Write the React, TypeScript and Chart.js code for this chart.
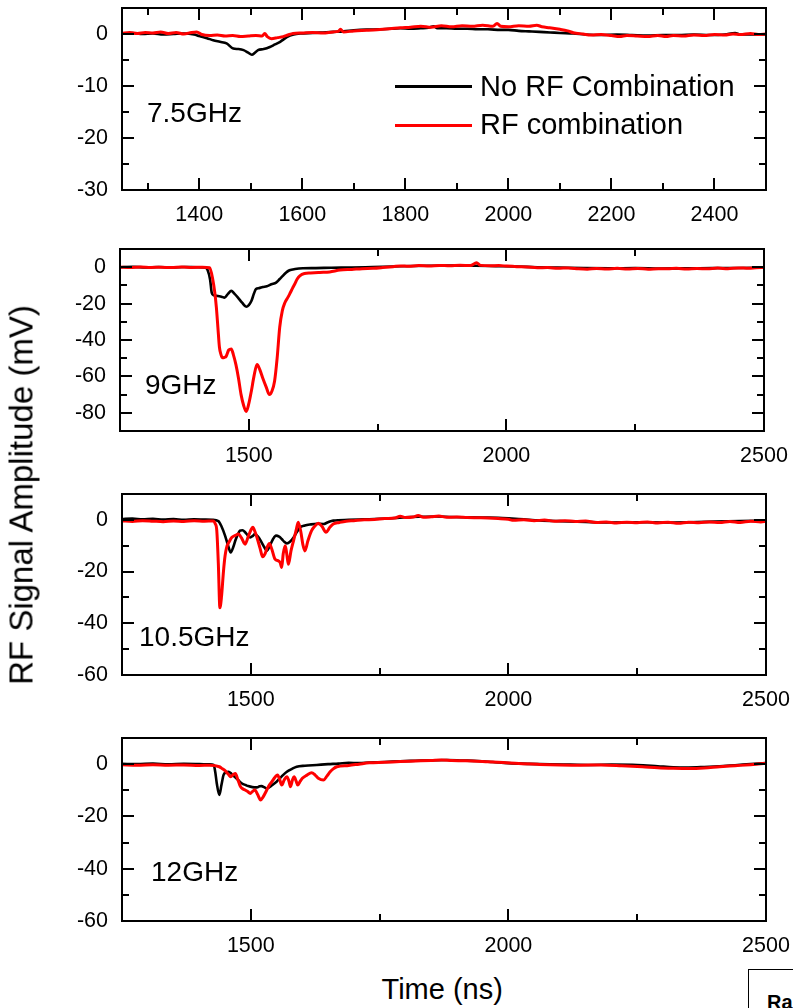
import React, { useEffect, useRef } from "react";
import { Chart, registerables } from "chart.js";

Chart.register(...registerables);

const FONT = "'Liberation Sans', Arial, Helvetica, sans-serif";

// ---------------- DATA ----------------
// Time (ns), amplitude (mV)
const black75: [number, number][] = [
  [1250, 0.1], [1270, 0.2], [1290, 0.0], [1310, 0.1], [1330, -0.1], [1350, 0.0], [1370, 0.1], [1390, -0.1],
  [1400, -0.4], [1415, -0.8], [1427, -1.2], [1440, -1.5], [1453, -1.8], [1466, -2.8], [1476, -2.9], [1486, -3.1],
  [1495, -3.6], [1502, -4.0], [1508, -3.6], [1514, -3.1], [1525, -2.9], [1537, -2.5], [1547, -2.0], [1557, -1.5],
  [1570, -0.6], [1583, -0.1], [1596, 0.1], [1620, 0.2], [1640, 0.3], [1660, 0.4], [1680, 0.5], [1700, 0.7],
  [1725, 0.85], [1750, 0.9], [1770, 1.0], [1790, 1.1], [1810, 1.0], [1830, 1.1], [1845, 1.2], [1855, 1.5],
  [1862, 1.1], [1880, 1.1], [1900, 1.0], [1920, 1.0], [1940, 0.9], [1960, 0.9], [1984, 0.8], [2000, 0.8],
  [2020, 0.6], [2040, 0.5], [2060, 0.4], [2081, 0.3], [2100, 0.2], [2126, 0.1], [2150, -0.1], [2180, -0.2],
  [2210, -0.1], [2240, -0.2], [2270, -0.3], [2300, -0.2], [2330, -0.2], [2360, -0.1], [2390, -0.2], [2420, -0.1],
  [2440, 0.2], [2450, -0.1], [2470, -0.1], [2500, -0.1],
];
const red75: [number, number][] = [
  [1250, 0.1], [1265, 0.3], [1280, 0.1], [1295, 0.3], [1310, 0.2], [1325, 0.4], [1340, 0.1], [1355, 0.3],
  [1370, 0.0], [1385, 0.3], [1395, 0.4], [1405, -0.1], [1420, -0.3], [1435, -0.2], [1450, -0.4], [1465, -0.3],
  [1480, -0.5], [1495, -0.4], [1510, -0.3], [1522, -0.4], [1527, 0.1], [1532, -0.5], [1540, -0.9], [1552, -0.7],
  [1563, -0.5], [1572, -0.2], [1582, 0.1], [1600, 0.2], [1620, 0.3], [1640, 0.2], [1660, 0.4], [1670, 0.5],
  [1674, 0.9], [1680, 0.4], [1700, 0.6], [1725, 0.7], [1745, 0.8], [1770, 1.0], [1790, 1.2], [1810, 1.3],
  [1830, 1.5], [1850, 1.3], [1870, 1.6], [1890, 1.4], [1910, 1.6], [1930, 1.5], [1950, 1.7], [1970, 1.5],
  [1978, 2.0], [1985, 1.5], [2000, 1.4], [2020, 1.6], [2040, 1.5], [2055, 1.7], [2065, 1.4], [2080, 1.2],
  [2100, 0.9], [2115, 0.6], [2126, 0.25], [2145, 0.0], [2160, -0.2], [2180, -0.1], [2200, -0.3], [2216, -0.5],
  [2230, -0.3], [2250, -0.4], [2270, -0.5], [2290, -0.3], [2306, -0.5], [2320, -0.3], [2340, -0.4], [2360, -0.2],
  [2380, -0.3], [2400, -0.1], [2420, -0.2], [2436, 0.0], [2450, -0.1], [2470, 0.1], [2485, -0.1], [2500, 0.0],
];

const black90: [number, number][] = [
  [1250, 0], [1275, 0.2], [1300, -0.1], [1325, 0.1], [1350, -0.1], [1375, 0.1], [1400, 0.0], [1415, -0.2],
  [1420, -1.5], [1425, -7], [1428, -14], [1432, -15.5], [1440, -15.8], [1447, -16.2], [1453, -16.7], [1460, -14.5],
  [1466, -13], [1472, -14.5], [1479, -16.7], [1487, -19.5], [1495, -21.7], [1500, -20.8], [1505, -18.6], [1510, -14.5],
  [1514, -12], [1520, -11.5], [1527, -10.9], [1535, -10.5], [1544, -9.4], [1553, -8.5], [1560, -6.5], [1566, -4.8],
  [1572, -3.0], [1579, -1.7], [1590, -1.0], [1605, -0.6], [1630, -0.5], [1660, -0.3], [1700, -0.2], [1740, 0.1],
  [1780, 0.4], [1820, 0.7], [1860, 0.8], [1900, 0.9], [1940, 0.8], [1980, 0.6], [2020, 0.4], [2060, 0.0],
  [2100, -0.2], [2150, -0.5], [2200, -0.6], [2250, -0.5], [2300, -0.7], [2350, -0.6], [2400, -0.5], [2450, -0.4],
  [2500, -0.2],
];
const red90: [number, number][] = [
  [1250, 0], [1270, -0.2], [1290, 0.1], [1310, -0.1], [1330, 0.0], [1350, -0.2], [1370, 0.1], [1390, -0.1],
  [1410, 0.0], [1424, -0.3], [1430, -6.6], [1434, -14], [1437, -22], [1440, -33], [1443, -44], [1446, -48],
  [1449, -49.8], [1453, -49.5], [1456, -49], [1461, -45.5], [1466, -44.9], [1470, -48], [1475, -53.5], [1480, -61],
  [1485, -70], [1490, -76], [1495, -79.3], [1500, -75], [1505, -68], [1510, -60], [1516, -53.5], [1521, -56],
  [1527, -60.9], [1534, -66], [1540, -70], [1545, -68], [1550, -62.7], [1555, -50], [1560, -33], [1565, -24],
  [1570, -19.5], [1575, -17], [1579, -14.9], [1585, -11.5], [1589, -9.4], [1594, -6.5], [1599, -4.8], [1608, -3.5],
  [1620, -3.2], [1638, -2.9], [1657, -2.6], [1677, -1.6], [1700, -1.2], [1720, -0.8], [1741, -0.6], [1760, -0.2],
  [1780, 0.3], [1794, 0.7], [1810, 0.5], [1830, 0.9], [1850, 0.7], [1870, 1.0], [1890, 0.8], [1910, 1.1],
  [1930, 0.9], [1942, 2.4], [1950, 1.0], [1970, 0.8], [1985, 0.9], [2001, 0.6], [2020, 0.3], [2040, 0.1],
  [2060, -0.3], [2080, -0.2], [2100, -0.6], [2120, -0.4], [2140, -0.9], [2157, -1.1], [2175, -0.7], [2195, -1.0],
  [2215, -0.6], [2235, -1.0], [2255, -0.7], [2275, -1.1], [2295, -0.8], [2313, -0.9], [2330, -0.6], [2350, -1.0],
  [2370, -0.7], [2390, -0.9], [2410, -0.5], [2430, -0.8], [2450, -0.4], [2470, -0.6], [2485, -0.3], [2500, -0.2],
];

const black105: [number, number][] = [
  [1250, 0.3], [1270, 0.5], [1290, 0.2], [1310, 0.4], [1330, 0.1], [1350, 0.3], [1370, 0.0], [1390, 0.2],
  [1410, 0.1], [1425, 0.0], [1437, -0.5], [1443, -2.5], [1450, -6.1], [1456, -10], [1461, -12.6], [1466, -10.5],
  [1470, -8], [1475, -5.5], [1479, -4.2], [1484, -4.0], [1489, -4.8], [1494, -6.0], [1499, -6.8], [1504, -6.2],
  [1508, -5.5], [1514, -6.5], [1521, -8.7], [1526, -10.5], [1531, -12], [1537, -10], [1543, -7.5], [1549, -6.1],
  [1555, -6.5], [1560, -7.4], [1565, -8.5], [1570, -9.1], [1576, -8.5], [1583, -6.8], [1590, -4.5], [1596, -2.9],
  [1605, -2.2], [1615, -1.8], [1628, -1.5], [1641, -1.6], [1650, -0.9], [1660, -0.3], [1690, 0.0], [1720, 0.2],
  [1750, 0.4], [1780, 0.7], [1800, 1.0], [1830, 1.2], [1860, 1.3], [1890, 1.1], [1920, 1.0], [1950, 0.9],
  [1980, 0.8], [2000, 0.6], [2030, 0.2], [2060, -0.2], [2100, -0.5], [2150, -0.8], [2200, -1.0], [2250, -0.9],
  [2300, -1.0], [2350, -0.9], [2400, -0.7], [2450, -0.5], [2500, -0.3],
];
const red105: [number, number][] = [
  [1250, -0.4], [1270, -0.6], [1290, -0.3], [1310, -0.5], [1330, -0.7], [1350, -0.4], [1370, -0.6], [1390, -0.3],
  [1410, -0.5], [1427, -0.4], [1431, -1.5], [1434, -4.2], [1437, -17], [1440, -34], [1443, -30], [1447, -19.8],
  [1450, -14], [1453, -10.7], [1458, -8.5], [1463, -6.8], [1470, -6.0], [1476, -5.5], [1482, -7.0], [1489, -9.4],
  [1495, -6.5], [1500, -4.0], [1504, -2.9], [1508, -4.5], [1512, -6.8], [1518, -11], [1523, -14.3], [1528, -13],
  [1532, -10.5], [1536, -9.1], [1541, -11.5], [1547, -15.2], [1554, -15.9], [1557, -16.5], [1560, -18.4], [1563, -13],
  [1567, -10], [1570, -13.5], [1573, -17.2], [1578, -12], [1583, -8], [1588, -4], [1592, -0.9], [1597, -4.5],
  [1601, -9.5], [1605, -12], [1611, -8], [1618, -4.2], [1624, -2.5], [1631, -1.3], [1638, -2.5], [1646, -4.8],
  [1653, -3.0], [1660, -1.6], [1672, -1.0], [1685, -0.5], [1700, -0.3], [1720, 0.0], [1740, 0.1], [1760, 0.5],
  [1780, 0.7], [1790, 1.4], [1800, 0.9], [1815, 1.1], [1825, 1.7], [1835, 1.0], [1850, 1.2], [1865, 1.5],
  [1880, 1.0], [1900, 1.1], [1920, 0.9], [1940, 0.8], [1960, 0.7], [1980, 0.5], [2000, 0.2], [2010, -0.2],
  [2030, 0.0], [2050, -0.3], [2070, -0.1], [2090, -0.5], [2110, -0.3], [2130, -0.6], [2150, -0.4], [2170, -1.0],
  [2190, -0.8], [2210, -1.2], [2230, -0.9], [2250, -1.1], [2270, -0.8], [2290, -1.2], [2310, -0.9], [2330, -1.3],
  [2350, -0.9], [2370, -1.1], [2390, -0.8], [2410, -1.0], [2430, -0.6], [2450, -1.0], [2470, -0.5], [2490, -0.8],
  [2500, -0.6],
];

const black120: [number, number][] = [
  [1250, 0.1], [1280, 0.0], [1310, 0.2], [1340, -0.1], [1370, 0.1], [1400, 0.0], [1420, -0.1], [1428, -0.3],
  [1431, -3], [1434, -7.4], [1439, -11.8], [1443, -8], [1447, -4.2], [1452, -3.2], [1457, -2.9], [1462, -3.6],
  [1467, -4.6], [1475, -6.0], [1483, -7.4], [1490, -8.0], [1495, -8.4], [1503, -8.8], [1512, -8.9], [1517, -8.5],
  [1521, -8.4], [1526, -8.8], [1531, -9.3], [1540, -8.2], [1550, -6.7], [1560, -4.7], [1570, -2.9], [1580, -1.8],
  [1589, -1.0], [1605, -0.6], [1628, -0.3], [1650, 0.0], [1670, 0.2], [1690, 0.5], [1710, 0.4], [1730, 0.6],
  [1760, 0.8], [1790, 1.1], [1820, 1.3], [1850, 1.5], [1880, 1.6], [1910, 1.4], [1940, 1.2], [1970, 0.8],
  [2000, 0.4], [2040, 0.1], [2080, -0.1], [2120, -0.2], [2160, -0.3], [2200, -0.2], [2250, -0.3], [2290, -0.8],
  [2320, -1.2], [2350, -1.3], [2380, -1.1], [2410, -0.8], [2440, -0.4], [2470, 0.0], [2500, 0.4],
];
const red120: [number, number][] = [
  [1250, -0.2], [1280, -0.4], [1310, -0.2], [1340, -0.4], [1370, -0.3], [1400, -0.5], [1420, -0.4], [1439, -1.0],
  [1445, -1.8], [1450, -2.5], [1456, -3.8], [1461, -4.8], [1466, -4.0], [1470, -3.6], [1475, -6.0], [1480, -8.6],
  [1485, -9.5], [1489, -9.9], [1494, -10.5], [1499, -11.2], [1503, -10.5], [1508, -9.9], [1513, -11.5], [1519, -13.7],
  [1524, -12.5], [1531, -9.9], [1536, -8.0], [1541, -6.7], [1547, -5.0], [1552, -4.2], [1556, -5.8], [1560, -8.0],
  [1565, -6.0], [1570, -4.8], [1574, -6.5], [1577, -8.6], [1581, -6.0], [1584, -4.8], [1588, -6.5], [1591, -8.0],
  [1596, -6.5], [1600, -5.4], [1609, -4.2], [1618, -3.3], [1625, -4.2], [1631, -5.4], [1641, -6.1], [1648, -4.5],
  [1654, -2.9], [1660, -1.8], [1667, -1.0], [1690, -0.5], [1710, 0.0], [1730, 0.5], [1760, 0.7], [1790, 1.0],
  [1820, 1.2], [1850, 1.4], [1870, 1.6], [1890, 1.4], [1910, 1.3], [1930, 1.2], [1960, 0.9], [1990, 0.6],
  [2020, 0.2], [2060, -0.1], [2100, -0.3], [2140, -0.4], [2180, -0.3], [2220, -0.6], [2260, -1.0], [2290, -1.4],
  [2320, -1.6], [2350, -1.7], [2380, -1.5], [2410, -1.0], [2440, -0.6], [2470, -0.2], [2500, 0.3],
];

// Tick values and labels
const xMajorTop = [1400, 1600, 1800, 2000, 2200, 2400];
const xMinorTop = [1300, 1500, 1700, 1900, 2100, 2300];
const xLabelsTop = ["1400", "1600", "1800", "2000", "2200", "2400"];
const xMajor = [1500, 2000, 2500];
const xMinor = [1750, 2250];
const xLabels = ["1500", "2000", "2500"];

const yMajor75 = [0, -10, -20, -30];
const yMinor75 = [-5, -15, -25];
const yLabels75 = ["0", "-10", "-20", "-30"];
const yMajor90 = [0, -20, -40, -60, -80];
const yMinor90 = [-10, -30, -50, -70];
const yLabels90 = ["0", "-20", "-40", "-60", "-80"];
const yMajor60 = [0, -20, -40, -60];
const yMinor60 = [-10, -30, -50];
const yLabels60 = ["0", "-20", "-40", "-60"];

const panelNames = ["7.5GHz", "9GHz", "10.5GHz", "12GHz"];
const seriesNames = ["No RF Combination", "RF combination"];
const xTitle = "Time (ns)";
const yTitle = "RF Signal Amplitude (mV)";

// ---------------- LAYOUT ----------------
const PAD_TOP = 20;
const X_AXIS_H = 45;
const TICK_FONT = 21.5;

type PanelCfg = {
  box: { left: number; top: number; right: number; bottom: number };
  xRange: [number, number];
  yRange: [number, number];
  xMaj: number[];
  xMin: number[];
  xLab: string[];
  yMaj: number[];
  yMin: number[];
  yLab: string[];
  black: [number, number][];
  red: [number, number][];
};

const panels: PanelCfg[] = [
  {
    box: { left: 122, top: 8, right: 766, bottom: 190 },
    xRange: [1250, 2500], yRange: [-30, 5],
    xMaj: xMajorTop, xMin: xMinorTop, xLab: xLabelsTop,
    yMaj: yMajor75, yMin: yMinor75, yLab: yLabels75,
    black: black75, red: red75,
  },
  {
    box: { left: 120, top: 249, right: 764, bottom: 431 },
    xRange: [1250, 2500], yRange: [-90, 10],
    xMaj: xMajor, xMin: xMinor, xLab: xLabels,
    yMaj: yMajor90, yMin: yMinor90, yLab: yLabels90,
    black: black90, red: red90,
  },
  {
    box: { left: 122, top: 494, right: 766, bottom: 675 },
    xRange: [1250, 2500], yRange: [-60, 10],
    xMaj: xMajor, xMin: xMinor, xLab: xLabels,
    yMaj: yMajor60, yMin: yMinor60, yLab: yLabels60,
    black: black105, red: red105,
  },
  {
    box: { left: 122, top: 738, right: 766, bottom: 921 },
    xRange: [1250, 2500], yRange: [-60, 10],
    xMaj: xMajor, xMin: xMinor, xLab: xLabels,
    yMaj: yMajor60, yMin: yMinor60, yLab: yLabels60,
    black: black120, red: red120,
  },
];

const framePlugin = {
  id: "frame",
  afterDatasetsDraw(chart: any, _args: any, opts: any) {
    const { ctx, chartArea } = chart;
    const { left, right, top, bottom } = chartArea;
    const xs = chart.scales.x;
    const ys = chart.scales.y;
    ctx.save();
    ctx.strokeStyle = "#000";
    ctx.lineWidth = 2;
    ctx.beginPath();
    const drawX = (vals: number[], len: number) => {
      vals.forEach((v) => {
        const p = Math.round(xs.getPixelForValue(v));
        ctx.moveTo(p, bottom);
        ctx.lineTo(p, bottom - len);
        ctx.moveTo(p, top);
        ctx.lineTo(p, top + len);
      });
    };
    const drawY = (vals: number[], len: number) => {
      vals.forEach((v) => {
        const p = Math.round(ys.getPixelForValue(v));
        ctx.moveTo(left, p);
        ctx.lineTo(left + len, p);
        ctx.moveTo(right, p);
        ctx.lineTo(right - len, p);
      });
    };
    drawX(opts.xMaj, 12);
    drawX(opts.xMin, 7);
    drawY(opts.yMaj, 12);
    drawY(opts.yMin, 7);
    ctx.stroke();
    ctx.strokeRect(left, top, right - left, bottom - top);
    ctx.restore();
  },
};

const zeroPadding = (s: any) => {
  s.paddingLeft = 0;
  s.paddingRight = 0;
  s.paddingTop = 0;
  s.paddingBottom = 0;
};

function PanelChart({ cfg }: { cfg: PanelCfg }) {
  const ref = useRef<HTMLCanvasElement | null>(null);
  const { box } = cfg;
  const height = box.bottom - box.top + PAD_TOP + X_AXIS_H;
  useEffect(() => {
    if (!ref.current) return;
    const chart = new Chart(ref.current, {
      type: "line",
      data: {
        datasets: [
          {
            label: seriesNames[1],
            data: cfg.red.map(([x, y]) => ({ x, y })),
            borderColor: "#ff0000",
            borderWidth: 3,
            pointRadius: 0,
            cubicInterpolationMode: "monotone",
          },
          {
            label: seriesNames[0],
            data: cfg.black.map(([x, y]) => ({ x, y })),
            borderColor: "#000000",
            borderWidth: 2.6,
            pointRadius: 0,
            cubicInterpolationMode: "monotone",
          },
        ],
      },
      options: {
        responsive: false,
        animation: false,
        devicePixelRatio: 1,
        events: [],
        layout: { padding: { top: PAD_TOP, left: 0, right: 793 - box.right, bottom: 0 } },
        plugins: {
          legend: { display: false },
          tooltip: { enabled: false },
          frame: { xMaj: cfg.xMaj, xMin: cfg.xMin, yMaj: cfg.yMaj, yMin: cfg.yMin },
        } as any,
        scales: {
          x: {
            type: "linear",
            min: cfg.xRange[0],
            max: cfg.xRange[1],
            grid: { display: false, drawTicks: false },
            border: { display: false },
            ticks: {
              font: { family: FONT, size: TICK_FONT },
              color: "#000",
              padding: 12,
              maxRotation: 0,
              autoSkip: false,
              callback: (_v: any, i: number) => cfg.xLab[i],
            },
            afterBuildTicks: (s: any) => {
              s.ticks = cfg.xMaj.map((v) => ({ value: v }));
            },
            afterFit: (s: any) => {
              s.height = X_AXIS_H;
              zeroPadding(s);
            },
          },
          y: {
            type: "linear",
            min: cfg.yRange[0],
            max: cfg.yRange[1],
            grid: { display: false, drawTicks: false },
            border: { display: false },
            ticks: {
              font: { family: FONT, size: TICK_FONT },
              color: "#000",
              padding: 14,
              autoSkip: false,
              callback: (_v: any, i: number) => cfg.yLab[i],
            },
            afterBuildTicks: (s: any) => {
              s.ticks = cfg.yMaj.map((v) => ({ value: v }));
            },
            afterFit: (s: any) => {
              s.width = box.left;
              zeroPadding(s);
            },
          },
        },
      } as any,
      plugins: [framePlugin],
    });
    return () => chart.destroy();
  }, [cfg]);
  return (
    <canvas
      ref={ref}
      width={793}
      height={height}
      style={{ position: "absolute", left: 0, top: box.top - PAD_TOP, width: 793, height }}
    />
  );
}

const textBase: React.CSSProperties = {
  position: "absolute",
  fontFamily: FONT,
  color: "#000",
  lineHeight: 1,
  whiteSpace: "nowrap",
  margin: 0,
};

// baseline-positioned text helper: top = baseline - 0.8465*fontSize
function Label({ text, x, baseline, size }: { text: string; x: number; baseline: number; size: number }) {
  return (
    <div style={{ ...textBase, left: x, top: baseline - 0.8465 * size, fontSize: size }}>{text}</div>
  );
}

const panelLabelPos = [
  { x: 147, baseline: 123 },
  { x: 145, baseline: 395 },
  { x: 139, baseline: 646.5 },
  { x: 151, baseline: 881.5 },
];

export default function App() {
  return (
    <div
      style={{
        position: "absolute",
        left: 0,
        top: 0,
        width: 793,
        height: 1008,
        overflow: "hidden",
        background: "#fff",
      }}
    >
      {panels.map((p, i) => (
        <PanelChart key={i} cfg={p} />
      ))}
      {panelNames.map((n, i) => (
        <Label key={n} text={n} x={panelLabelPos[i].x} baseline={panelLabelPos[i].baseline} size={28} />
      ))}
      {/* legend */}
      <div style={{ position: "absolute", left: 395, top: 85, width: 77, height: 2.6, background: "#000" }} />
      <Label text={seriesNames[0]} x={480} baseline={96.5} size={29} />
      <div style={{ position: "absolute", left: 395, top: 124, width: 77, height: 3, background: "#ff0000" }} />
      <Label text={seriesNames[1]} x={480} baseline={135} size={29} />
      {/* axis titles */}
      <Label text={xTitle} x={381.5} baseline={1000} size={29} />
      <div
        style={{
          ...textBase,
          fontSize: 33,
          left: 21,
          top: 495,
          transform: "translate(-50%, -50%) rotate(-90deg)",
        }}
      >
        {yTitle}
      </div>
      {/* cropped box at bottom right */}
      <div
        style={{
          position: "absolute",
          left: 748,
          top: 969,
          width: 80,
          height: 60,
          border: "1.5px solid #000",
          boxSizing: "border-box",
          paddingLeft: 18,
          paddingTop: 22,
          fontFamily: FONT,
          fontWeight: "bold",
          fontSize: 20,
          lineHeight: 1,
        }}
      >
        Ra
      </div>
    </div>
  );
}
